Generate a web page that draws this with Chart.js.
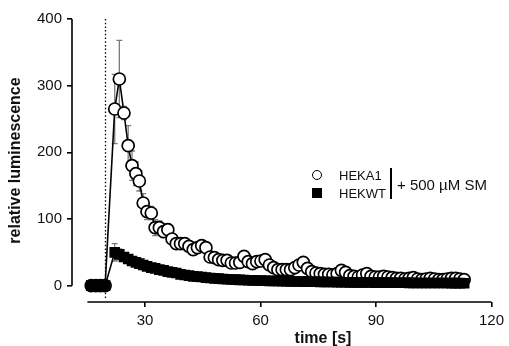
<!DOCTYPE html>
<html><head><meta charset="utf-8">
<script src="https://cdn.jsdelivr.net/npm/chart.js@4/dist/chart.umd.min.js"></script>
<style>
html,body{margin:0;padding:0;background:#fff;}
#wrap{position:relative;width:509px;height:346px;overflow:hidden;}
canvas{display:block;}
.lg{position:absolute;font-family:"Liberation Sans",Arial,sans-serif;color:#111;white-space:nowrap;line-height:1;}
</style></head><body>
<div id="wrap">
<canvas id="c" width="509" height="346"></canvas>
<div class="lg" style="left:312px;top:170px;width:8px;height:8px;border:1.7px solid #000;border-radius:50%;background:#fff;"></div>
<div class="lg" style="left:339px;top:169px;font-size:13px;">HEKA1</div>
<div class="lg" style="left:312px;top:188px;width:10px;height:10px;background:#000;"></div>
<div class="lg" style="left:339px;top:187px;font-size:13px;">HEKWT</div>
<div class="lg" style="left:390px;top:168px;width:2px;height:31px;background:#000;"></div>
<div class="lg" style="left:397px;top:177px;font-size:15px;">+ 500 µM SM</div>
</div>
<script>
// ---- data ----
const time = [16.0, 17.2, 18.4, 19.6,
 22.1, 23.3, 24.5, 25.6, 26.6, 27.6, 28.5, 29.5, 30.5, 31.6,
 32.6, 33.7, 34.8, 35.9, 37.0, 38.1, 39.2, 40.3, 41.4, 42.5,
 43.6, 44.7, 45.8, 46.9, 48.0, 49.1, 50.2, 51.3, 52.4, 53.5,
 54.6, 55.7, 56.8, 57.9, 59.0, 60.1, 61.2, 62.3, 63.4, 64.5,
 65.6, 66.7, 67.8, 68.9, 70.0, 71.1, 72.2, 73.3, 74.4, 75.5,
 76.6, 77.7, 78.8, 79.9, 81.0, 82.1, 83.2, 84.3, 85.4, 86.5,
 87.6, 88.7, 89.8, 90.9, 92.0, 93.1, 94.2, 95.3, 96.4, 97.5,
 98.6, 99.7, 100.8, 101.9, 103.0, 104.1, 105.2, 106.3, 107.4, 108.5,
 109.6, 110.7, 111.8, 112.9];
const heka1 = [0, 0, 0, 0,
 265, 310, 259, 210, 180, 168, 157, 124, 111, 109,
 87, 87, 81, 84, 70, 63, 63, 63, 59, 54,
 57, 60, 57, 43, 42, 39, 38, 38, 34, 34,
 35, 44, 36, 33, 36, 37, 39, 31, 27, 24,
 24, 24, 24, 27, 31, 35, 26, 21, 19, 18,
 17, 17, 16, 18, 23, 20, 15, 14, 13, 16,
 18, 14, 13, 13, 14, 13, 12, 11, 11, 10,
 11, 12, 10, 9, 10, 11, 10, 9, 9, 10,
 11, 11, 10, 9];
const heka1Err = [1, 1, 1, 1,
 52, 58, 10, 30, 22, 18, 15, 14, 12, 10,
 12, 10, 9, 9, 8, 8, 7, 7, 7, 7,
 7, 6, 6, 6, 6, 5, 5, 5, 5, 5,
 5, 5, 5, 4, 4, 4, 4, 4, 4, 4,
 4, 4, 4, 4, 4, 4, 4, 3, 3, 3,
 3, 3, 3, 3, 3, 3, 3, 3, 3, 3,
 3, 3, 3, 3, 3, 3, 3, 3, 3, 3,
 2, 2, 2, 2, 2, 2, 2, 2, 2, 2,
 2, 2, 2, 2];
const hekwt = [0, 0, 0, 0,
 50, 47, 43, 40, 37, 35, 33, 31, 29, 27,
 26, 24, 23, 21, 20, 19, 17, 16, 15, 14,
 13.5, 13, 12, 11.5, 11, 10.5, 10, 9.6, 9.3, 9,
 8.7, 8.5, 8.2, 8, 7.8, 7.6, 7.4, 7.2, 7, 6.9,
 6.7, 6.6, 6.5, 6.3, 6.2, 6.1, 6, 5.9, 5.8, 5.7,
 5.6, 5.5, 5.4, 5.3, 5.2, 5.1, 5, 5, 4.9, 4.8,
 4.8, 4.7, 4.6, 4.6, 4.5, 4.5, 4.4, 4.4, 4.3, 4.3,
 4.2, 4.2, 4.1, 4.1, 4, 4, 4, 3.9, 3.9, 3.9,
 3.8, 3.8, 3.8, 3.7];
const hekwtErr = [1, 1, 1, 1,
 13, 8, 6, 5, 5, 4, 4, 4, 3, 3,
 3, 3, 3, 3, 3, 2, 2, 2, 2, 2,
 2, 2, 2, 2, 2, 2, 2, 2, 2, 2,
 2, 2, 2, 1, 1, 1, 1, 1, 1, 1,
 1, 1, 1, 1, 1, 1, 1, 1, 1, 1,
 1, 1, 1, 1, 1, 1, 1, 1, 1, 1,
 1, 1, 1, 1, 1, 1, 1, 1, 1, 1,
 1, 1, 1, 1, 1, 1, 1, 1, 1, 1,
 1, 1, 1, 1];
const xTicks = [30, 60, 90, 120];
const yTicks = [0, 100, 200, 300, 400];
const stimulusTime = 19.5;
const xAxisStart = 15;

const FONT = '"Liberation Sans", Arial, sans-serif';
const toXY = (ys) => time.map((t, i) => ({x: t, y: ys[i]}));
const errMap = {HEKA1: heka1Err, HEKWT: hekwtErr};

const errorBars = {
  id: 'errorBars',
  beforeDatasetsDraw(chart) {
    const {ctx, scales: {x, y}} = chart;
    ctx.save();
    ctx.strokeStyle = '#7c7c7c';
    ctx.lineWidth = 1.3;
    chart.data.datasets.forEach(ds => {
      const errs = errMap[ds.label];
      ds.data.forEach((p, i) => {
        const e = errs[i];
        if (!e || e < 2) return;
        const px = x.getPixelForValue(p.x);
        const t = y.getPixelForValue(p.y + e), b = y.getPixelForValue(p.y - e);
        ctx.beginPath();
        ctx.moveTo(px, t); ctx.lineTo(px, b);
        ctx.moveTo(px - 3, t); ctx.lineTo(px + 3, t);
        ctx.moveTo(px - 3, b); ctx.lineTo(px + 3, b);
        ctx.stroke();
      });
    });
    ctx.restore();
  }
};

const axesLines = {
  id: 'axesLines',
  beforeDatasetsDraw(chart) {
    const {ctx, chartArea: ca, scales: {x, y}} = chart;
    ctx.save();
    ctx.strokeStyle = '#000';
    ctx.lineWidth = 1.6;
    ctx.beginPath();
    ctx.moveTo(ca.left, y.getPixelForValue(400));
    ctx.lineTo(ca.left, y.getPixelForValue(0));
    ctx.moveTo(x.getPixelForValue(xAxisStart), ca.bottom);
    ctx.lineTo(x.getPixelForValue(120), ca.bottom);
    ctx.stroke();
    // dotted stimulus line
    ctx.lineWidth = 1.3;
    ctx.setLineDash([1.5, 2.2]);
    const sx = Math.round(x.getPixelForValue(stimulusTime)) + 0.5;
    ctx.beginPath();
    ctx.moveTo(sx, y.getPixelForValue(400));
    ctx.lineTo(sx, ca.bottom - 3);
    ctx.stroke();
    ctx.restore();
  },
  afterDraw(chart) {
    const {ctx} = chart;
    ctx.save();
    ctx.fillStyle = '#111';
    ctx.font = 'bold 16px ' + FONT;
    ctx.textAlign = 'center';
    ctx.textBaseline = 'middle';
    ctx.fillText('time [s]', 323, 339);
    ctx.restore();
  }
};

new Chart(document.getElementById('c'), {
  type: 'line',
  data: {
    datasets: [
      {label: 'HEKA1', data: toXY(heka1), order: 2,
       borderColor: '#000', borderWidth: 1.6, backgroundColor: '#fff',
       pointStyle: 'circle', pointRadius: 6, pointBorderWidth: 1.7,
       pointBorderColor: '#000', pointBackgroundColor: '#fff', tension: 0},
      {label: 'HEKWT', data: toXY(hekwt), order: 1,
       borderColor: '#000', borderWidth: 1.6, backgroundColor: '#000',
       pointStyle: 'rect', pointRadius: 7.5, pointBorderWidth: 0,
       pointBackgroundColor: '#000', tension: 0}
    ]
  },
  options: {
    responsive: false,
    animation: false,
    devicePixelRatio: 1,
    layout: {padding: {left: 0, right: 12, top: 19, bottom: 0}},
    plugins: {legend: {display: false}, tooltip: {enabled: false}},
    scales: {
      x: {
        type: 'linear', min: 11, max: 120,
        afterBuildTicks: s => { s.ticks = xTicks.map(v => ({value: v})); },
        afterFit: s => { s.height = 44; },
        border: {display: false},
        grid: {drawOnChartArea: false, drawTicks: true, tickLength: 5, color: '#000', lineWidth: 1.6},
        ticks: {font: {family: FONT, size: 15}, color: '#111', padding: 5, maxRotation: 0}
      },
      y: {
        type: 'linear', min: -24.5, max: 400,
        afterBuildTicks: s => { s.ticks = yTicks.map(v => ({value: v})); },
        afterFit: s => { s.width = 72; },
        border: {display: false},
        grid: {drawOnChartArea: false, drawTicks: true, tickLength: 5, color: '#000', lineWidth: 1.6},
        ticks: {font: {family: FONT, size: 15}, color: '#111', padding: 5},
        title: {display: true, text: 'relative luminescence', color: '#111',
                font: {family: FONT, size: 16, weight: 'bold'}, padding: {top: 6, bottom: 0}}
      }
    }
  },
  plugins: [errorBars, axesLines]
});
</script>
</body></html>
